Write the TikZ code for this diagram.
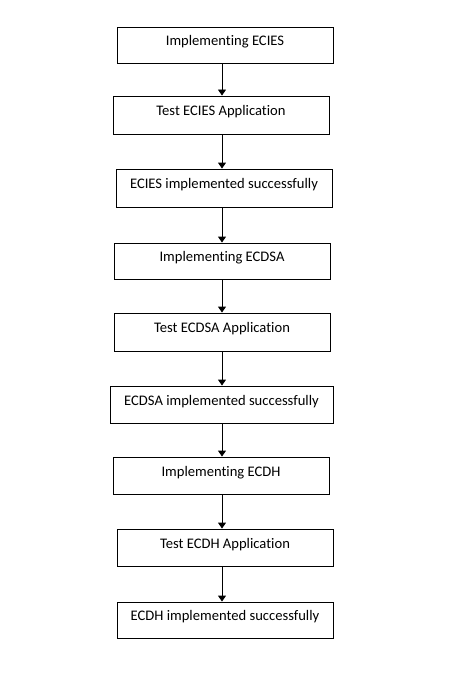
\documentclass[tikz,border=0pt]{standalone}
\usepackage{fontspec}
\setmainfont{Carlito}[Ligatures={NoCommon,NoDiscretionary,NoContextual}]
\usetikzlibrary{arrows.meta}
\begin{document}
\begin{tikzpicture}[x=1bp,y=-1bp,
  stepbox/.style={draw=black,line width=0.9bp,inner sep=0pt,minimum height=37bp,
    text height=7bp,text depth=6bp,font=\fontsize{14.6bp}{17bp}\selectfont},
  flow/.style={draw=black,line width=0.9bp,-{Triangle[width=8bp,length=6bp]}}]
\useasboundingbox[fill=white] (0,0) rectangle (458,688);
\node[stepbox,minimum width=216bp,minimum height=36bp] (b1) at (225,45) {Implementing ECIES};
\node[stepbox,minimum width=216bp,minimum height=38bp] (b2) at (221,115) {Test ECIES Application};
\node[stepbox,minimum width=216bp,minimum height=38bp] (b3) at (224,188) {ECIES implemented successfully};
\node[stepbox,minimum width=216bp,minimum height=36bp] (b4) at (222,261) {Implementing ECDSA};
\node[stepbox,minimum width=216bp,minimum height=38bp] (b5) at (222,332) {Test ECDSA Application};
\node[stepbox,minimum width=223bp,minimum height=37bp] (b6) at (221.5,404.5) {ECDSA implemented successfully};
\node[stepbox,minimum width=216bp,minimum height=37bp] (b7) at (221,475.5) {Implementing ECDH};
\node[stepbox,minimum width=216bp,minimum height=37bp] (b8) at (225,547.5) {Test ECDH Application};
\node[stepbox,minimum width=216bp,minimum height=36bp] (b9) at (225,620) {ECDH implemented successfully};
\coordinate (ax) at (222,0);
\foreach \a/\b in {b1/b2,b2/b3,b3/b4,b4/b5,b5/b6,b6/b7,b7/b8,b8/b9}
  \draw[flow] (\a.south -| ax) -- (\b.north -| ax);
\end{tikzpicture}
\end{document}
